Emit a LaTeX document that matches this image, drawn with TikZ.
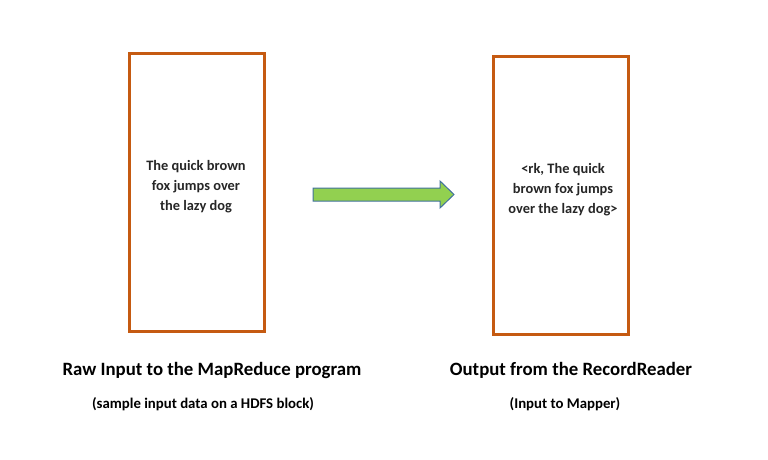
\documentclass[tikz,border=0pt]{standalone}
\usepackage{fontspec}
\setmainfont{Carlito}
\definecolor{boxorange}{HTML}{C55A11}
\definecolor{arrowgreen}{HTML}{92D050}
\definecolor{arrowblue}{HTML}{41719C}
\definecolor{txt}{HTML}{262626}
\begin{document}
\begin{tikzpicture}[x=1pt,y=-1pt,
  recbox/.style={draw=boxorange,line width=3pt,minimum width=135pt,minimum height=277pt,inner sep=0pt},
  boxtext/.style={font=\fontsize{14.4}{20}\selectfont\bfseries,text=txt,align=center},
  title/.style={font=\fontsize{18.8}{22}\selectfont\bfseries,text=black},
  subtitle/.style={font=\fontsize{14.8}{17}\selectfont\bfseries,text=black}]
\useasboundingbox (0,0) rectangle (768,460);
\node[recbox] (b1) at (196.5,192.5) {};
\node[recbox] (b2) at (560.5,195.5) {};
\node[boxtext] (t1) at (196,187) {The quick brown\\fox jumps over\\the lazy dog};
\node[boxtext] (t2) at (563,190) {<rk, The quick\\brown fox jumps\\over the lazy dog>};
\draw[fill=arrowgreen,draw=arrowblue,line width=1pt]
  (313,188) -- (440,188) -- (440,181) -- (454,194.5) -- (440,208) -- (440,201) -- (313,201) -- cycle;
\node[title] (l1) at (212,370) {Raw Input to the MapReduce program};
\node[subtitle] (s1) at (203,404) {(sample input data on a HDFS block)};
\node[title] (l2) at (571,370) {Output from the RecordReader};
\node[subtitle] (s2) at (565,404) {(Input to Mapper)};
\end{tikzpicture}
\end{document}
